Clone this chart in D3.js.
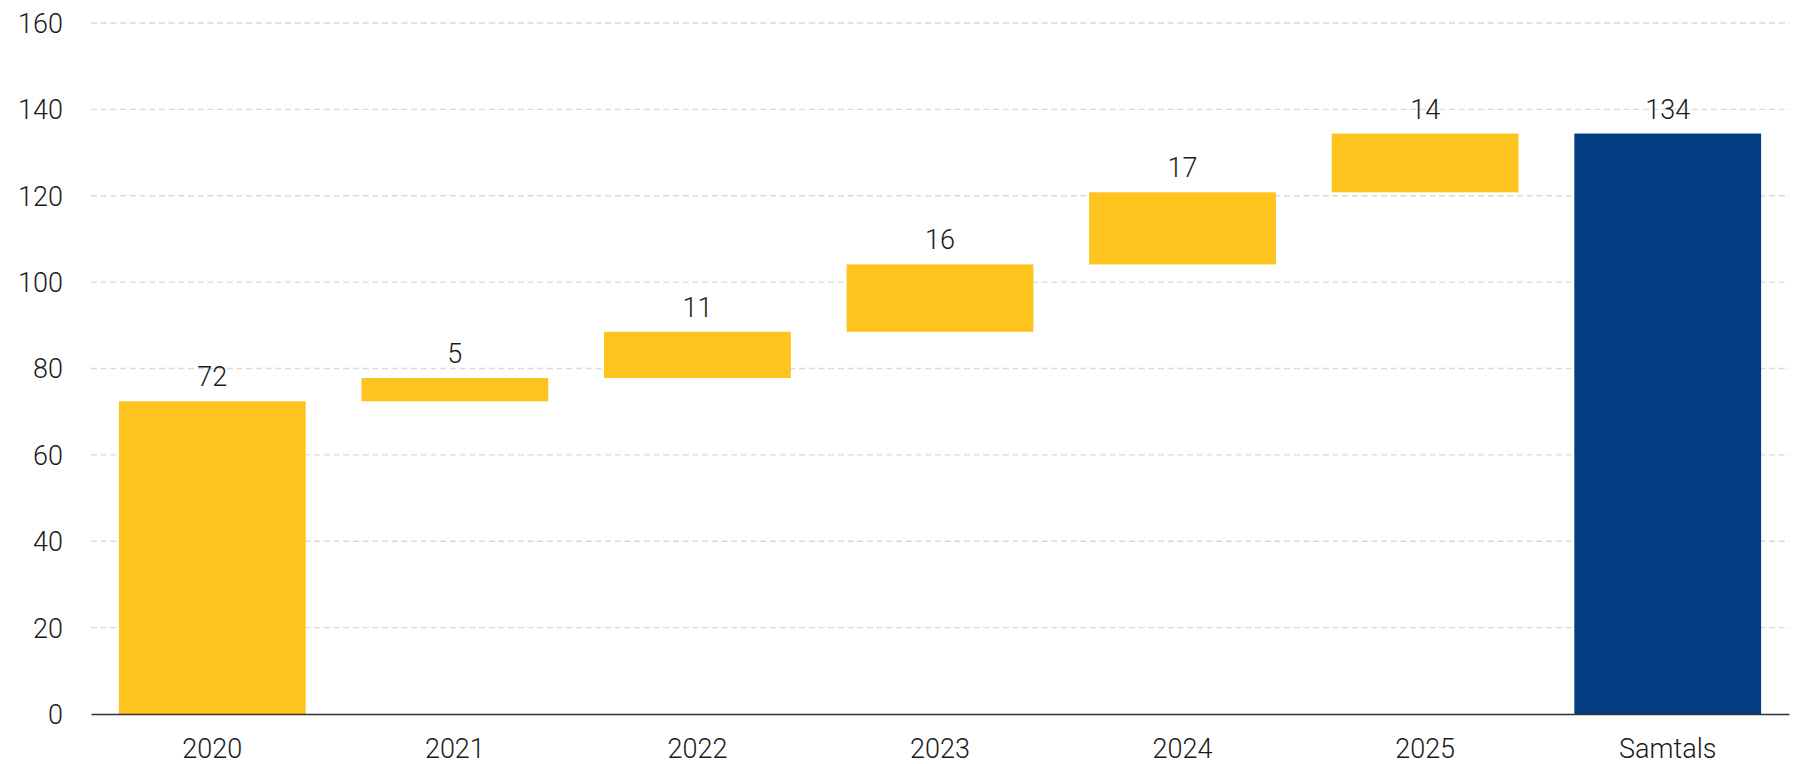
<!DOCTYPE html>
<html>
<head>
<meta charset="utf-8">
<script src="https://cdn.jsdelivr.net/npm/d3@7"></script>
<style>
    body { margin: 0; background: #fff; }
    text { font-family: Roboto, "Noto Sans", sans-serif; font-weight: 300; fill: #1a1a1a; }
</style>
</head>
<body>
<div id="chart"></div>
<script>
// DATA
const categories = ['2020', '2021', '2022', '2023', '2024', '2025', 'Samtals'];
const increments = [72.4, 5.4, 10.7, 15.6, 16.7, 13.6];
const yTicks = [0, 20, 40, 60, 80, 100, 120, 140, 160];

// FIGURE DIMENSIONS
const FIGURE = { WIDTH: 1797, HEIGHT: 764 };
const MARGINS = { LEFT: 91, TOP: 23, RIGHT: 8, BOTTOM: 50 };
const PLOT = {
    WIDTH: FIGURE.WIDTH - MARGINS.LEFT - MARGINS.RIGHT,
    HEIGHT: FIGURE.HEIGHT - MARGINS.TOP - MARGINS.BOTTOM
};

const COLORS = { step: '#fcc41c', total: '#023d83', grid: '#d9d9d9', axis: '#333' };

// build waterfall rows
let running = 0;
const rows = increments.map((v, i) => {
    const row = { cat: categories[i], start: running, end: running + v, value: v, total: false };
    running += v;
    return row;
});
rows.push({ cat: categories[categories.length - 1], start: 0, end: running, value: running, total: true });

const x = d3.scaleBand()
    .domain(categories)
    .range([0, PLOT.WIDTH])
    .paddingInner(0.23)
    .paddingOuter(0.115);

const y = d3.scaleLinear()
    .domain([0, 160])
    .range([PLOT.HEIGHT, 0]);

const canvas = d3.select('#chart')
    .append('svg')
        .attr('width', FIGURE.WIDTH)
        .attr('height', FIGURE.HEIGHT);

const plot = canvas.append('g')
    .attr('transform', `translate(${MARGINS.LEFT}, ${MARGINS.TOP})`);

// gridlines
plot.append('g')
    .attr('class', 'grid')
    .selectAll('line')
    .data(yTicks.filter(d => d > 0))
    .enter()
    .append('line')
        .attr('x1', 0)
        .attr('x2', PLOT.WIDTH)
        .attr('y1', d => y(d))
        .attr('y2', d => y(d))
        .attr('stroke', COLORS.grid)
        .attr('stroke-width', 1.3)
        .attr('stroke-dasharray', '6,3.7');

// y axis (labels only)
const yAxis = plot.append('g')
    .attr('class', 'yAxis')
    .call(d3.axisLeft(y).tickValues(yTicks).tickSize(0).tickPadding(28));
yAxis.select('.domain').remove();
yAxis.selectAll('text')
    .attr('font-size', 27)
    .attr('dy', '0.35em');

// bars
plot.append('g')
        .attr('class', 'bars')
    .selectAll('rect')
    .data(rows)
    .enter()
    .append('rect')
        .attr('x', d => x(d.cat))
        .attr('y', d => y(d.end))
        .attr('width', x.bandwidth())
        .attr('height', d => y(d.start) - y(d.end))
        .attr('fill', d => d.total ? COLORS.total : COLORS.step);

// value labels
plot.append('g')
        .attr('class', 'labels')
    .selectAll('text')
    .data(rows)
    .enter()
    .append('text')
        .attr('x', d => x(d.cat) + x.bandwidth() / 2)
        .attr('y', d => y(d.end) - 15)
        .attr('text-anchor', 'middle')
        .attr('font-size', 27)
        .text(d => Math.round(d.value));

// x axis
const xAxis = plot.append('g')
    .attr('class', 'xAxis')
    .attr('transform', `translate(0, ${PLOT.HEIGHT})`)
    .call(d3.axisBottom(x).tickSize(0).tickPadding(25));
xAxis.select('.domain')
    .attr('stroke', COLORS.axis)
    .attr('stroke-width', 1.5);
xAxis.selectAll('text')
    .attr('font-size', 27);
</script>
</body>
</html>
